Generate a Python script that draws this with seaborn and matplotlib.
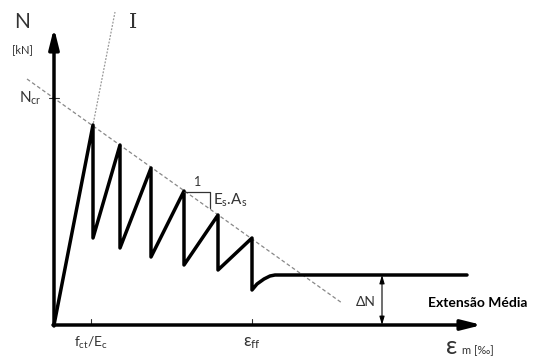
import numpy as np
import pandas as pd
import matplotlib
matplotlib.use("Agg")
import matplotlib.pyplot as plt
import seaborn as sns

# schematic N - eps_m curve (tension stiffening), arbitrary units
strain = [0, 39, 39, 66, 66, 97, 97, 130, 130, 164, 164, 198, 198, 203, 210, 216, 221, 413]
force = [0, 200, 87, 180, 77, 157, 68, 134, 60, 110, 55, 87, 35, 41, 46, 49, 50, 50]

# dashed envelope line and uncracked stiffness line I
env_x = [-27, 288]
env_y = [246, 22]
stiff_x = [0, 61]
stiff_y = [0, 313]

n_cr = 227
eps_ct = 37
eps_ff = 198
delta_n_x = 328
plateau = 50

df = pd.DataFrame({"strain": strain, "force": force})

sns.set_style("white")
plt.rcParams["font.family"] = ["Lato", "DejaVu Sans"]
plt.rcParams["mathtext.fontset"] = "custom"
plt.rcParams["mathtext.rm"] = "Lato"
plt.rcParams["mathtext.it"] = "Lato"

fig = plt.figure(figsize=(5.36, 3.61), dpi=100)
ax = fig.add_axes([0, 0, 1, 1])
ax.set_xlim(-54, 482)
ax.set_ylim(-36, 325)
ax.axis("off")

grey = "#333333"

# reference lines
ax.plot(env_x, env_y, color="#888888", lw=0.9, ls=(0, (3, 2)))
ax.plot(stiff_x, stiff_y, color="#999999", lw=0.9, ls=(0, (1.5, 1.2)))

# main curve (no aggregation: keep every vertex in order)
sns.lineplot(data=df, x="strain", y="force", sort=False, estimator=None,
             color="black", lw=2.5, ax=ax)
ax.set_xlabel("")
ax.set_ylabel("")

# axes with arrows
arrow = dict(arrowstyle="-|>,head_length=1.2,head_width=0.3", color="black", lw=2.5, shrinkA=0, shrinkB=0)
ax.annotate("", xy=(0, 297), xytext=(0, -1), arrowprops=arrow)
ax.annotate("", xy=(428, 0), xytext=(-1, 0), arrowprops=arrow)

# ticks
ax.plot([-5, 5], [n_cr, n_cr], color=grey, lw=0.8)
for t in [eps_ct, eps_ff]:
    ax.plot([t, t], [0, 6], color=grey, lw=0.8)

# slope triangle
ax.plot([130, 156, 156], [133, 133, 117], color=grey, lw=0.9)
ax.text(144, 143, "1", fontsize=9, color=grey, ha="center", va="center")
ax.text(159, 125, r"E$_\mathregular{s}$.A$_\mathregular{s}$", fontsize=11, color=grey, ha="left", va="center")

# delta N arrow
ax.annotate("", xy=(delta_n_x, plateau), xytext=(delta_n_x, 0),
            arrowprops=dict(arrowstyle="<|-|>,head_length=0.5,head_width=0.15", color="black", lw=0.8,
                            shrinkA=0, shrinkB=0))
ax.text(312, 23, "ΔN", fontsize=10, color=grey, ha="center", va="center")
ax.text(424, 22, "Extensão Média", fontsize=10, fontweight="bold", color="black", ha="center", va="center")

# labels
ax.text(-32, 303, "N", fontsize=15, color=grey, ha="center", va="center")
ax.text(-32, 275, "[kN]", fontsize=8, color=grey, ha="center", va="center")
ax.text(-24, n_cr, r"N$_\mathregular{cr}$", fontsize=11, color=grey, ha="center", va="center")
ax.text(79, 303, "I", fontsize=15, color=grey, ha="center", va="center", family="DejaVu Serif")
ax.text(eps_ct, -18, r"f$_\mathregular{ct}$/E$_\mathregular{c}$", fontsize=10, color=grey, ha="center", va="center")
ax.text(eps_ff, -18, r"ε$_\mathregular{ff}$", fontsize=12, color=grey, ha="center", va="center")
ax.text(398, -22, "ε", fontsize=18, color=grey, ha="center", va="center")
ax.text(408, -26, "m [‰]", fontsize=8, color=grey, ha="left", va="center")

fig.savefig("out.png", dpi=100)
